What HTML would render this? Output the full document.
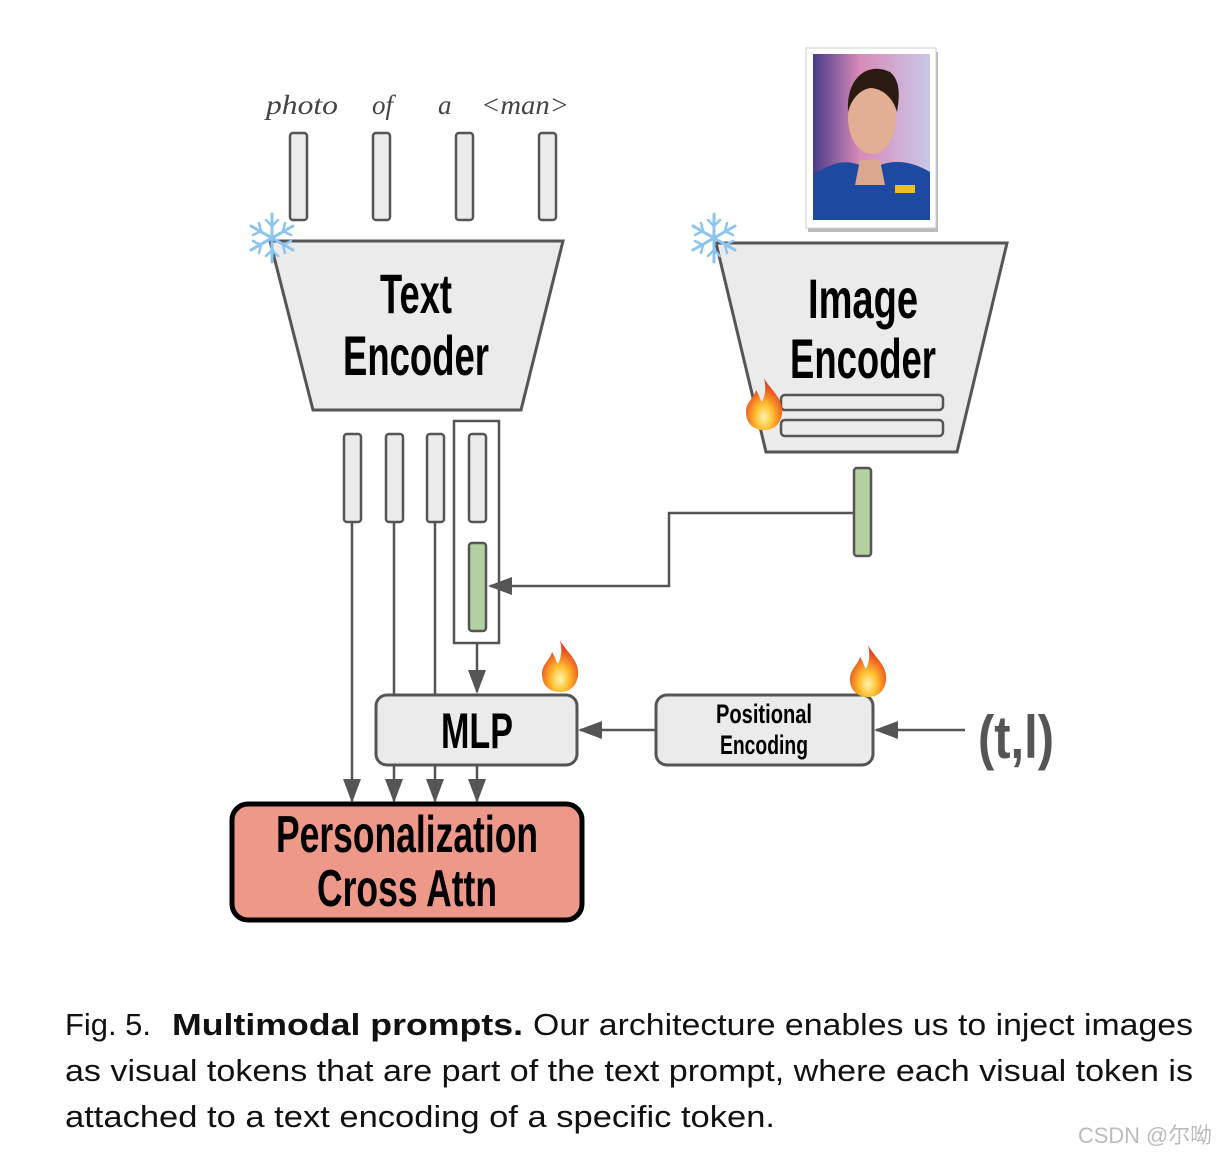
<!DOCTYPE html>
<html><head><meta charset="utf-8"><style>html,body{margin:0;padding:0;background:#fff}svg{display:block}</style></head><body>
<svg width="1216" height="1154" viewBox="0 0 1216 1154" xmlns="http://www.w3.org/2000/svg">
<defs>
<marker id="ah2" markerWidth="24" markerHeight="18" refX="22" refY="9" orient="auto" markerUnits="userSpaceOnUse"><path d="M0,0 L24,9 L0,18 Z" fill="#555"/></marker>
<linearGradient id="bg" x1="0" y1="0" x2="1" y2="0"><stop offset="0" stop-color="#4a3a8a"/><stop offset="0.4" stop-color="#d88ab8"/><stop offset="1" stop-color="#c9c8e8"/></linearGradient>
<radialGradient id="fl" cx="0.5" cy="0.75" r="0.6"><stop offset="0" stop-color="#fff5b0"/><stop offset="0.4" stop-color="#ffc030"/><stop offset="1" stop-color="#e8431a"/></radialGradient>
<g id="flame"><path d="M0,-30 C6,-18 20,-10 18,6 C16,18 8,22 0,22 C-10,22 -18,16 -18,4 C-18,-6 -10,-10 -8,-18 C-4,-12 -4,-8 -2,-6 C2,-14 2,-22 0,-30 Z" fill="url(#fl)"/></g>
<g id="snow" stroke="#8cc4f0" stroke-width="3" stroke-linecap="round" fill="none"><path d="M0,-24 V24 M-21,-12 L21,12 M-21,12 L21,-12"/><path d="M-6,-18 L0,-12 L6,-18 M-6,18 L0,12 L6,18 M-19,-3 L-11,-7 L-13,-15 M19,3 L11,7 L13,15 M-19,3 L-11,7 L-13,15 M19,-3 L11,-7 L13,-15" stroke-width="2.5"/></g>
</defs>

<g font-family="Liberation Serif, serif" font-style="italic" font-size="27" fill="#444">
<text x="266" y="114" textLength="72" lengthAdjust="spacingAndGlyphs">photo</text>
<text x="372" y="114">of</text>
<text x="438" y="114">a</text>
<text x="481" y="114" textLength="88" lengthAdjust="spacingAndGlyphs">&lt;man&gt;</text>
</g>
<g fill="#ebebeb" stroke="#555" stroke-width="2.5">
<rect x="290" y="133" width="17" height="87" rx="3"/><rect x="373" y="133" width="17" height="87" rx="3"/><rect x="456" y="133" width="17" height="87" rx="3"/><rect x="539" y="133" width="17" height="87" rx="3"/>
</g>

<polygon points="270,241 563,241 521,410 313,410" fill="#ebebeb" stroke="#555" stroke-width="3"/>
<g font-family="Liberation Sans, sans-serif" font-weight="bold" fill="#000" text-anchor="middle">
<text x="416" y="313" font-size="56" textLength="72" lengthAdjust="spacingAndGlyphs">Text</text>
<text x="416" y="375" font-size="56" textLength="146" lengthAdjust="spacingAndGlyphs">Encoder</text>
</g>
<use href="#snow" x="272" y="238"/>

<rect x="808" y="52" width="130" height="180" fill="#bbb"/>
<rect x="806" y="48" width="130" height="180" fill="#fff" stroke="#ccc" stroke-width="1"/>
<rect x="813" y="54" width="117" height="166" fill="url(#bg)"/>
<path d="M813,220 L813,175 C835,160 850,158 870,170 C890,158 910,160 930,172 L930,220 Z" fill="#1d4aa0"/>
<path d="M860,160 L880,160 L885,185 L855,185 Z" fill="#d9a88e"/>
<ellipse cx="872" cy="118" rx="24" ry="36" fill="#e2ae94"/>
<path d="M848,112 C846,75 870,62 890,72 C900,80 900,95 897,112 C892,95 880,88 870,88 C860,90 852,98 848,112 Z" fill="#2a1a12"/>
<rect x="895" y="185" width="20" height="8" fill="#e8c020"/>

<polygon points="716,243 1007,243 957,452 766,452" fill="#ebebeb" stroke="#555" stroke-width="3"/>
<g font-family="Liberation Sans, sans-serif" font-weight="bold" fill="#000" text-anchor="middle">
<text x="863" y="318" font-size="56" textLength="110" lengthAdjust="spacingAndGlyphs">Image</text>
<text x="863" y="378" font-size="56" textLength="146" lengthAdjust="spacingAndGlyphs">Encoder</text>
</g>
<rect x="781" y="395" width="162" height="15" rx="4" fill="#ebebeb" stroke="#555" stroke-width="2.5"/>
<rect x="781" y="420" width="162" height="16" rx="4" fill="#ebebeb" stroke="#555" stroke-width="2.5"/>
<use href="#snow" x="714" y="238"/>
<use href="#flame" x="764" y="408"/>

<rect x="454" y="421" width="45" height="222" fill="none" stroke="#555" stroke-width="2.5"/>
<g fill="#ebebeb" stroke="#555" stroke-width="2.5">
<rect x="344" y="434" width="17" height="88" rx="3"/><rect x="386" y="434" width="17" height="88" rx="3"/><rect x="427" y="434" width="17" height="88" rx="3"/><rect x="469" y="434" width="17" height="88" rx="3"/>
</g>
<rect x="469" y="543" width="17" height="88" rx="3" fill="#b3d0a2" stroke="#555" stroke-width="2.5"/>
<rect x="854" y="468" width="17" height="88" rx="3" fill="#b3d0a2" stroke="#555" stroke-width="2.5"/>

<g stroke="#555" stroke-width="2.5" fill="none">
<polyline points="854,513 669,513 669,586 490,586" marker-end="url(#ah2)"/>
<line x1="477" y1="643" x2="477" y2="692" marker-end="url(#ah2)"/>
<line x1="352" y1="522" x2="352" y2="801" marker-end="url(#ah2)"/>
<line x1="394" y1="522" x2="394" y2="695"/>
<line x1="435" y1="522" x2="435" y2="695"/>
<line x1="394" y1="765" x2="394" y2="801" marker-end="url(#ah2)"/>
<line x1="435" y1="765" x2="435" y2="801" marker-end="url(#ah2)"/>
<line x1="477" y1="765" x2="477" y2="801" marker-end="url(#ah2)"/>
<line x1="965" y1="730" x2="876" y2="730" marker-end="url(#ah2)"/>
<line x1="655" y1="730" x2="580" y2="730" marker-end="url(#ah2)"/>
</g>

<rect x="376" y="695" width="201" height="70" rx="11" fill="#ebebeb" stroke="#555" stroke-width="3"/>
<text x="477" y="748" font-family="Liberation Sans, sans-serif" font-weight="bold" font-size="50" text-anchor="middle" textLength="72" lengthAdjust="spacingAndGlyphs">MLP</text>
<use href="#flame" x="560" y="670"/>

<rect x="656" y="695" width="217" height="70" rx="11" fill="#ebebeb" stroke="#555" stroke-width="3"/>
<g font-family="Liberation Sans, sans-serif" font-weight="bold" font-size="27" text-anchor="middle">
<text x="764" y="723" textLength="96" lengthAdjust="spacingAndGlyphs">Positional</text>
<text x="764" y="754" textLength="88" lengthAdjust="spacingAndGlyphs">Encoding</text>
</g>
<use href="#flame" x="868" y="675"/>
<text x="978" y="758" font-family="Liberation Sans, sans-serif" font-weight="bold" font-size="60" fill="#555" textLength="76" lengthAdjust="spacingAndGlyphs">(t,l)</text>

<rect x="232" y="804" width="350" height="116" rx="16" fill="#ee9889" stroke="#000" stroke-width="5"/>
<g font-family="Liberation Sans, sans-serif" font-weight="bold" font-size="52" text-anchor="middle">
<text x="407" y="852" textLength="262" lengthAdjust="spacingAndGlyphs">Personalization</text>
<text x="407" y="906" textLength="180" lengthAdjust="spacingAndGlyphs">Cross Attn</text>
</g>

<g font-family="Liberation Sans, sans-serif" font-size="31" fill="#111">
<text x="65" y="1035" textLength="86" lengthAdjust="spacingAndGlyphs">Fig. 5.</text>
<text x="172" y="1035" font-weight="bold" textLength="351" lengthAdjust="spacingAndGlyphs">Multimodal prompts.</text>
<text x="533" y="1035" textLength="660" lengthAdjust="spacingAndGlyphs">Our architecture enables us to inject images</text>
<text x="65" y="1081" textLength="1128" lengthAdjust="spacingAndGlyphs">as visual tokens that are part of the text prompt, where each visual token is</text>
<text x="65" y="1127" textLength="710" lengthAdjust="spacingAndGlyphs">attached to a text encoding of a specific token.</text>
</g>
<text x="1078" y="1143" font-family="Liberation Sans, 'Noto Sans CJK SC', sans-serif" font-size="22" fill="#bbb" textLength="134" lengthAdjust="spacingAndGlyphs">CSDN @尔呦</text>
</svg>
</body></html>
